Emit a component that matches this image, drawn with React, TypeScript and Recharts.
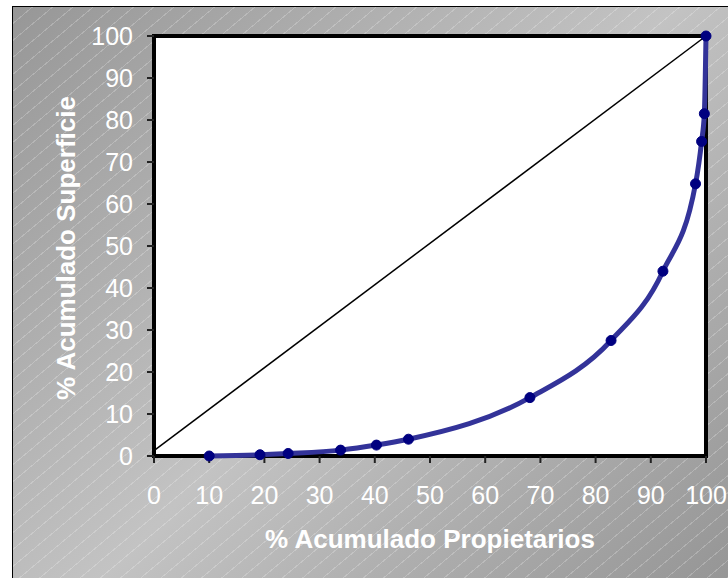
import React from 'react';
import { ComposedChart, Line, XAxis, YAxis, ReferenceArea, Label } from 'recharts';

// Lorenz curve: cumulative % of owners vs cumulative % of land surface
const propietarios = [10, 19.2, 24.3, 33.8, 40.3, 46.1, 68.1, 82.8, 92.2, 98.1, 99.2, 99.7, 100];
const superficie = [0, 0.3, 0.6, 1.4, 2.6, 4.0, 13.9, 27.5, 44.0, 64.8, 74.9, 81.5, 100];

// equal-distribution reference line
const igualdadX = [0, 100];
const igualdadY = [1.3, 100];

const axisTicks = [0, 10, 20, 30, 40, 50, 60, 70, 80, 90, 100];

const curveData = propietarios.map((x, i) => ({ x, y: superficie[i] }));
const igualdadData = igualdadX.map((x, i) => ({ x, y: igualdadY[i] }));

const W = 728;
const H = 578;
const FONT = '"Liberation Sans", Arial, sans-serif';

const tickStyle = { fill: '#ffffff', fontSize: 25, fontFamily: FONT };

function YTitle(props: any) {
  const vb = props.viewBox || { x: 74, y: 36, width: 80, height: 420 };
  const cx = vb.x - 8;
  const cy = vb.y + vb.height / 2 + 2;
  return (
    <text
      x={cx}
      y={cy}
      transform={`rotate(-90, ${cx}, ${cy})`}
      textAnchor="middle"
      dominantBaseline="central"
      fill="#ffffff"
      fontFamily={FONT}
      fontSize={26}
      fontWeight="bold"
    >
      % Acumulado Superficie
    </text>
  );
}

function XTitle(props: any) {
  const vb = props.viewBox || { x: 154, y: 456, width: 552, height: 100 };
  return (
    <text
      x={vb.x + vb.width / 2}
      y={vb.y + 92}
      textAnchor="middle"
      fill="#ffffff"
      fontFamily={FONT}
      fontSize={26}
      fontWeight="bold"
    >
      % Acumulado Propietarios
    </text>
  );
}

export default function App() {
  return (
    <div style={{ position: 'absolute', left: 0, top: 0, width: W, height: H, overflow: 'hidden' }}>
      <div
        style={{
          position: 'absolute',
          left: 12,
          top: 6,
          width: 730,
          height: 590,
          border: '1px solid #000',
          background:
            'repeating-linear-gradient(140deg, rgba(255,255,255,0) 0px, rgba(255,255,255,0) 12px, rgba(255,255,255,0.22) 12px, rgba(255,255,255,0.22) 13px), linear-gradient(135deg, #979797 0%, #c3c3c3 50%, #939393 100%)',
        }}
      />
      <div style={{ position: 'absolute', left: 0, top: 0 }}>
        <ComposedChart width={W} height={H} margin={{ top: 36, right: 22, bottom: 22, left: 74 }}>
          <XAxis
            type="number"
            dataKey="x"
            domain={[0, 100]}
            ticks={axisTicks}
            interval={0}
            height={100}
            axisLine={false}
            tickLine={{ stroke: '#222', strokeWidth: 2 }}
            tickSize={7}
            tickMargin={23}
            tick={tickStyle}
          >
            <Label content={<XTitle />} />
          </XAxis>
          <YAxis
            type="number"
            dataKey="y"
            domain={[0, 100]}
            ticks={axisTicks}
            interval={0}
            width={80}
            axisLine={false}
            tickLine={{ stroke: '#222', strokeWidth: 2 }}
            tickSize={7}
            tickMargin={14}
            tick={tickStyle}
          >
            <Label content={<YTitle />} />
          </YAxis>
          <ReferenceArea x1={0} x2={100} y1={0} y2={100} fill="#ffffff" fillOpacity={1} stroke="#000" strokeWidth={4} />
          <Line
            data={igualdadData}
            dataKey="y"
            type="linear"
            stroke="#000"
            strokeWidth={1.5}
            dot={false}
            isAnimationActive={false}
          />
          <Line
            data={curveData}
            dataKey="y"
            type="monotone"
            stroke="#333399"
            strokeWidth={5}
            dot={{ r: 5, fill: '#000080', stroke: '#000080', strokeWidth: 1 }}
            isAnimationActive={false}
          />
        </ComposedChart>
      </div>
    </div>
  );
}
